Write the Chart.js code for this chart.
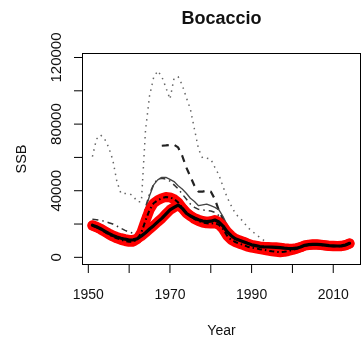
<!DOCTYPE html>
<html>
<head>
<meta charset="utf-8">
<script src="https://cdn.jsdelivr.net/npm/chart.js@4/dist/chart.umd.min.js"></script>
<style>
  html, body { margin: 0; padding: 0; background: #fff; }
  canvas { display: block; }
</style>
</head>
<body>
<canvas id="ssbChart" width="362" height="345"></canvas>
<script>
// Spawning stock biomass by year, several model runs
const years = [
  1951, 1952, 1953, 1954, 1955, 1956, 1957, 1958, 1959, 1960,
  1961, 1962, 1963, 1964, 1965, 1966, 1967, 1968, 1969, 1970,
  1971, 1972, 1973, 1974, 1975, 1976, 1977, 1978, 1979, 1980,
  1981, 1982, 1983, 1984, 1985, 1986, 1987, 1988, 1989, 1990,
  1991, 1992, 1993, 1994, 1995, 1996, 1997, 1998, 1999, 2000,
  2001, 2002, 2003, 2004, 2005, 2006, 2007, 2008, 2009, 2010,
  2011, 2012, 2013, 2014
];

// base run (thick solid)
const ssbBase = [
  19300, 18400, 17200, 15800, 14400, 13100, 12200, 11500, 10900, 10400,
  10500, 11200, 12800, 14800, 17000, 19000, 21300, 23400, 26000, 28500,
  30000, 31400, 29500, 26500, 24800, 23600, 22600, 21800, 21400, 21700,
  22400, 21200, 18800, 15400, 13000, 11200, 10200, 9400, 8400, 7500,
  7000, 6500, 6300, 6200, 6100, 6000, 5800, 5500, 5300, 5200,
  5500, 6200, 7200, 7600, 7800, 7800, 7600, 7300, 7000, 6900,
  6800, 6900, 7400, 8400
];

// alternative run (dash-dot on red)
const ssbAlt = [
  19000, 18000, 16800, 15300, 13800, 12500, 11400, 10500, 9800, 9300,
  9400, 11000, 15000, 22000, 28500, 32500, 34300, 35500, 36200, 36000,
  35000, 33000, 29800, 27000, 25000, 23000, 21800, 20900, 20400, 20300,
  20500, 19500, 17000, 13000, 10500, 9200, 8200, 7400, 6400, 5800,
  5400, 4900, 4500, 4000, 3600, 3300, 3100, 3300, 3800, 4400,
  5200, 6000, 7000, 7400, 7600, 7600, 7400, 7100, 6800, 6700,
  6600, 6700, 7200, 8200
];

// sensitivity runs
const ssbSens1 = [
  19300, 18400, 17200, 15800, 14400, 13100, 12200, 11500, 10900, 10400,
  10500, 12000, 19000, 28500, 37000, 43500, 46500, 48000, 48000, 46800,
  45500, 43000, 41000, 38500, 35500, 33500, 31000, 31500, 32000, 31000,
  30000, 28500, 24500, 19500, 15000, 12500, 11000, 10000, 9000, 8100,
  7500, 7000, 6800, 6700, 6600, 6500, 6300, 6000, 5800, 5700,
  6000, 6700, 7700, 8100, 8300, 8300, 8100, 7800, 7500, 7400,
  7300, 7400, 7900, 8900
];

const ssbSens2 = [
  22800, 22600, 22200, 21600, 20800, 20000, 18800, 17400, 16200, 15200,
  14400, 14000, 21000, 30000, 38000, 44000, 47000, 47500, 47000, 45800,
  43500, 41200, 38000, 35000, 32000, 30000, 28800, 28400, 28200, 27800,
  27000, 25000, 20500, 16000, 13000, 11300, 10300, 9500, 8500, 7700,
  7100, 6700, 6500, 6400, 6300, 6200, 6000, 5700, 5500, 5400,
  5700, 6400, 7400, 7800, 8000, 8000, 7800, 7500, 7200, 7100,
  7000, 7100, 7600, 8600
];

const ssbSens3 = [
  null, null, null, null, null, null, null, null, null, null,
  null, null, null, null, null, null, null, 67000, 67200, 67500,
  67600, 66000, 61000, 54000, 48500, 43000, 39500, 39500, 40000, 39500,
  35000, 28000, 23000, 18000, 14500, 12400, 11000, 10000, 9000, 8200,
  7600, 7100, 6900, 6800, 6700, 6600, 6400, 6100, 5900, 5800,
  6100, 6800, 7800, 8200, 8400, 8400, 8200, 7900, 7600, 7500,
  7400, 7500, 8000, 9000
];

// upper bound (dotted)
const ssbUpper = [
  60500, 71000, 73500, 71000, 66000, 58400, 45500, 38400, 38400, 38400,
  36800, 33400, 33400, 76000, 97000, 108000, 112000, 108500, 102000, 95000,
  107500, 108500, 103500, 96000, 89000, 77000, 65000, 59500, 59500, 59000,
  54000, 49500, 42500, 36000, 31000, 26400, 23800, 21400, 18000, 16000,
  13800, 12000, 10200, 8800, 7800, 7000, 6600, 6300, 6100, 6000,
  6300, 7000, 8000, 8400, 8600, 8600, 8400, 8100, 7800, 7700,
  7600, 7700, 8200, 9200
];

const xTicks = [1950, 1960, 1970, 1980, 1990, 2000, 2010];
const xLabels = [1950, 1970, 1990, 2010];
const yTicks = [0, 20000, 40000, 60000, 80000, 100000, 120000];
const yLabels = [0, 40000, 80000, 120000];

const textFont = '"Liberation Sans", Arial, Helvetica, sans-serif';

function points(values) {
  return values.map((v, i) => ({ x: years[i], y: v }));
}

function series(values, color, width, dash, order) {
  return {
    data: points(values),
    borderColor: color,
    borderWidth: width,
    borderDash: dash,
    // round caps would stretch every dash and dot
    borderCapStyle: dash.length ? 'butt' : 'round',
    borderJoinStyle: 'round',
    pointRadius: 0,
    tension: 0,
    fill: false,
    order: order
  };
}

// box, ticks and all text drawn by hand in R base-graphics style
const axesPlugin = {
  id: 'baseAxes',
  afterDraw(chart) {
    const { ctx, chartArea: a, scales } = chart;
    const xs = scales.x, ys = scales.y;
    ctx.save();
    ctx.strokeStyle = '#000';
    ctx.lineWidth = 1;
    ctx.strokeRect(a.left + 0.5, a.top + 0.5, a.right - a.left - 1, a.bottom - a.top - 1);

    ctx.beginPath();
    xTicks.forEach(v => {
      const x = xs.getPixelForValue(v);
      ctx.moveTo(x, a.bottom);
      ctx.lineTo(x, a.bottom + 8);
    });
    yTicks.forEach(v => {
      const y = ys.getPixelForValue(v);
      ctx.moveTo(a.left, y);
      ctx.lineTo(a.left - 8, y);
    });
    ctx.stroke();

    ctx.fillStyle = '#111';
    ctx.textAlign = 'center';
    ctx.textBaseline = 'alphabetic';

    ctx.font = '14px ' + textFont;
    xLabels.forEach(v => {
      ctx.fillText(String(v), xs.getPixelForValue(v), 299);
    });
    ctx.fillText('Year', (a.left + a.right) / 2, 335);

    ctx.font = '15px ' + textFont;
    yLabels.forEach(v => {
      ctx.save();
      ctx.translate(61, ys.getPixelForValue(v));
      ctx.rotate(-Math.PI / 2);
      ctx.fillText(String(v), 0, 0);
      ctx.restore();
    });

    ctx.font = '14.5px ' + textFont;
    ctx.save();
    ctx.translate(26, (a.top + a.bottom) / 2);
    ctx.rotate(-Math.PI / 2);
    ctx.fillText('SSB', 0, 0);
    ctx.restore();

    ctx.font = 'bold 18px ' + textFont;
    ctx.fillText('Bocaccio', (a.left + a.right) / 2, 24);
    ctx.restore();
  }
};

const ctx = document.getElementById('ssbChart').getContext('2d');
new Chart(ctx, {
  type: 'line',
  data: {
    datasets: [
      series(ssbBase, '#000', 3.2, [], 0),
      series(ssbAlt, '#000', 2, [5, 3, 1.5, 3], 1),
      series(ssbBase, '#ff0000', 10, [], 2),
      series(ssbAlt, '#ff0000', 10, [], 3),
      series(ssbSens1, '#444', 1.3, [], 4),
      series(ssbSens2, '#333', 1.5, [6, 4, 1.5, 4], 5),
      series(ssbSens3, '#222', 2.2, [7, 6], 6),
      series(ssbUpper, '#666', 1.5, [1.5, 4.5], 7)
    ]
  },
  plugins: [axesPlugin],
  options: {
    responsive: false,
    animation: false,
    devicePixelRatio: 1,
    layout: { padding: { left: 82, right: 1, top: 53, bottom: 80 } },
    scales: {
      x: { type: 'linear', min: 1948.45, max: 2016.8, display: false },
      y: { type: 'linear', min: -4600, max: 122700, display: false }
    },
    plugins: {
      legend: { display: false },
      tooltip: { enabled: false },
      title: { display: false }
    }
  }
});
</script>
</body>
</html>
